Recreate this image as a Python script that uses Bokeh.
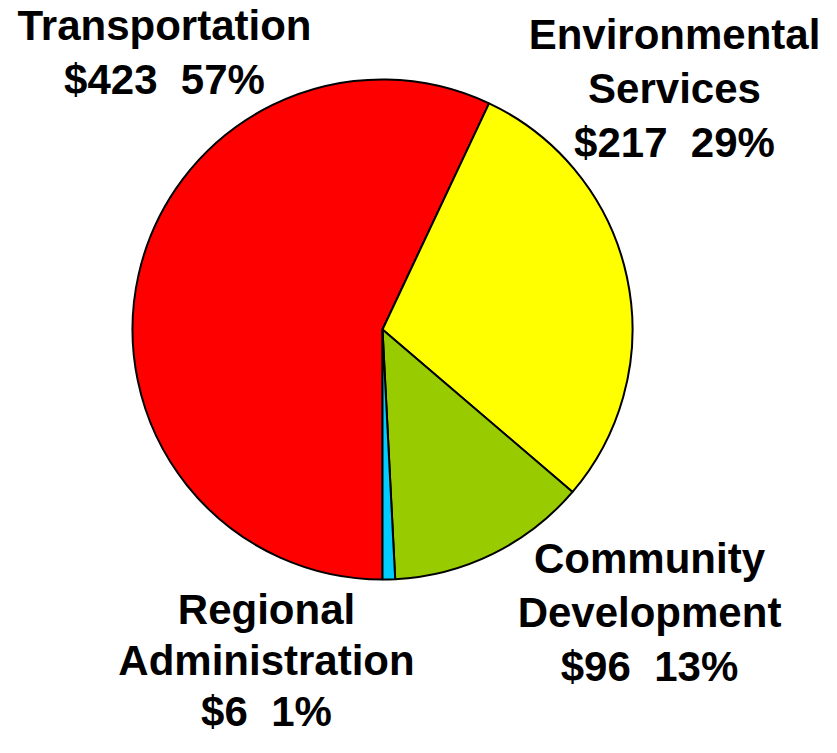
import math
from bokeh.plotting import figure
from bokeh.models import Range1d, ColumnDataSource
from bokeh.core.properties import value
from bokeh.embed import file_html
from bokeh.resources import INLINE

# ---- data ----
categories = ["Transportation", "Environmental Services", "Community Development", "Regional Administration"]
amounts = [423, 217, 96, 6]
colors = ["#FF0000", "#FFFF00", "#99CC00", "#00CCFF"]
label_lines = [
    ["Transportation"],
    ["Environmental", "Services"],
    ["Community", "Development"],
    ["Regional", "Administration"],
]

# ---- layout (pixel positions from the top-left of the figure) ----
W, H = 821, 737
center_screen = (382, 329)
radius = 250
first_angle_deg = 180  # clockwise from 12 o'clock
label_anchor_x = [164, 674, 649, 266]
label_first_anchor = [25, 34, 558, 609]
line_steps = [54, 54, 54, 51]

p = figure(width=W, height=H, output_backend="svg", toolbar_location=None,
           x_range=Range1d(0, W), y_range=Range1d(0, H),
           min_border=0, outline_line_color=None)
p.axis.visible = False
p.grid.visible = False
p.background_fill_color = "white"
p.border_fill_color = "white"

total = sum(amounts)
starts, ends = [], []
cum = math.radians(first_angle_deg)
for a in amounts:
    th0 = cum
    th1 = cum + 2 * math.pi * a / total
    starts.append(math.pi / 2 - th0)
    ends.append(math.pi / 2 - th1)
    cum = th1

cx, cy = center_screen[0], H - center_screen[1]
src = ColumnDataSource(dict(x=[cx] * len(amounts), y=[cy] * len(amounts),
                            start=starts, end=ends, color=colors))
p.wedge(x="x", y="y", radius=radius, start_angle="start", end_angle="end",
        direction="clock", fill_color="color", line_color="black",
        line_width=2, source=src)

tx, ty, tt = [], [], []
for i, (cat, amt) in enumerate(zip(categories, amounts)):
    pct = round(100 * amt / total)
    lines = label_lines[i] + [f"${amt}\u00a0 {pct}%"]
    for j, ln in enumerate(lines):
        tx.append(label_anchor_x[i])
        ty.append(H - (label_first_anchor[i] + j * line_steps[i]))
        tt.append(ln)

p.text(x=tx, y=ty, text=tt, text_font=value("Liberation Sans"),
       text_font_style="bold", text_font_size="42px", text_align="center",
       text_baseline="alphabetic", text_color="black")

open("out.html", "w").write(file_html(p, INLINE))
